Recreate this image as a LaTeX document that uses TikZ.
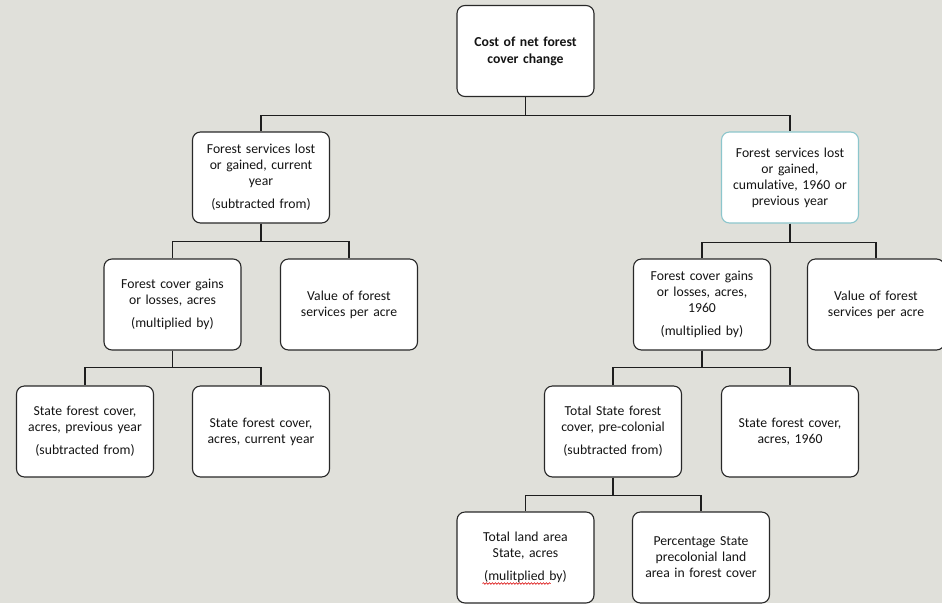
\documentclass[tikz,border=0pt]{standalone}
\usepackage{fontspec}
\setmainfont{Carlito}[Ligatures=NoCommon]
\usetikzlibrary{decorations.pathmorphing,calc}
\definecolor{bg}{RGB}{224,224,218}
\definecolor{edge}{RGB}{40,40,40}
\definecolor{tealedge}{RGB}{140,198,204}
\definecolor{link}{RGB}{30,30,30}
\definecolor{txt}{RGB}{20,20,20}
\tikzset{
  box/.style={draw=edge, fill=white, line width=1.1pt, rounded corners=8pt,
    minimum width=137pt, minimum height=91pt, text width=134pt, align=center,
    inner sep=0pt, text=txt, font=\fontsize{13.7pt}{16pt}\selectfont},
  link/.style={draw=link, line width=1.1pt},
}
\begin{document}
\begin{tikzpicture}[x=1pt,y=-1pt]
\fill[bg] (0,0) rectangle (942,603);
\useasboundingbox (0,0) rectangle (942,603);
% level 0
\node[box, font=\bfseries\fontsize{13.7pt}{17pt}\selectfont] (top) at (525.5,51) {Cost of net forest\\cover change};
% level 1
\node[box] (curr) at (261,177.5) {Forest services lost\\or gained, current\\year\\[7pt](subtracted from)};
\node[box, draw=tealedge] (cum) at (790,177.5) {Forest services lost\\or gained,\\cumulative, 1960 or\\previous year};
% level 2
\node[box] (gains) at (172.5,304.5) {Forest cover gains\\or losses, acres\\[7pt](multiplied by)};
\node[box] (val1) at (349,304.5) {Value of forest\\services per acre};
\node[box] (gains60) at (702,304.5) {Forest cover gains\\or losses, acres,\\1960\\[7pt](multiplied by)};
\node[box] (val2) at (876,304.5) {Value of forest\\services per acre};
% level 3
\node[box] (prev) at (85,431.5) {State forest cover,\\acres, previous year\\[7pt](subtracted from)};
\node[box] (cury) at (261,431.5) {State forest cover,\\acres, current year};
\node[box] (pre) at (613,431.5) {Total State forest\\cover, pre-colonial\\[7pt](subtracted from)};
\node[box] (s60) at (790,431.5) {State forest cover,\\acres, 1960};
% level 4
\node[box] (land) at (525.5,557.5) {Total land area\\State, acres\\[7pt](mulitplied by)};
\node[box] (pct) at (701,557.5) {Percentage State\\precolonial land\\area in forest cover};
% spell-check squiggle
\draw[red!85!black, line width=0.6pt, decorate, decoration={snake, amplitude=0.8pt, segment length=3pt}]
  ($(land.center)+(-43,26)$) -- ($(land.center)+(25,26)$);
% connectors
\draw[link] (top.south) -- ++(0,18) -| (curr.north);
\draw[link] (top.south) -- ++(0,18) -| (cum.north);
\draw[link] (curr.south) -- ++(0,18) -| (gains.north);
\draw[link] (curr.south) -- ++(0,18) -| (val1.north);
\draw[link] (cum.south) -- ++(0,19) -| (gains60.north);
\draw[link] (cum.south) -- ++(0,19) -| (val2.north);
\draw[link] (gains.south) -- ++(0,17) -| (prev.north);
\draw[link] (gains.south) -- ++(0,17) -| (cury.north);
\draw[link] (gains60.south) -- ++(0,17) -| (pre.north);
\draw[link] (gains60.south) -- ++(0,17) -| (s60.north);
\draw[link] (pre.south) -- ++(0,18) -| (land.north);
\draw[link] (pre.south) -- ++(0,18) -| (pct.north);
\end{tikzpicture}
\end{document}
